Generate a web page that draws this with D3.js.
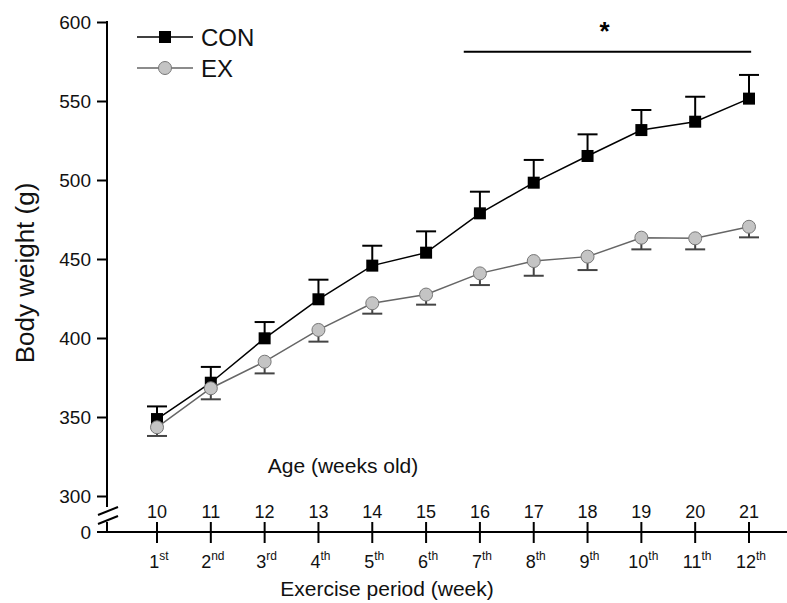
<!DOCTYPE html>
<html>
<head>
<meta charset="utf-8">
<script src="https://cdn.jsdelivr.net/npm/d3@7"></script>
<style>
  html, body { margin: 0; padding: 0; background: #fff; }
  svg { display: block; font-family: "Liberation Sans", Arial, sans-serif; }
</style>
</head>
<body>
<svg id="chart" width="787" height="603"></svg>
<script>
// Age in weeks and the matching exercise week
const ageWeeks = [10, 11, 12, 13, 14, 15, 16, 17, 18, 19, 20, 21];
const exerciseNum = ["1", "2", "3", "4", "5", "6", "7", "8", "9", "10", "11", "12"];
const exerciseSuffix = ["st", "nd", "rd", "th", "th", "th", "th", "th", "th", "th", "th", "th"];

// Body weight (g), mean and SE
const conMean = [348.7, 371.7, 399.8, 424.5, 445.8, 454.0, 478.9, 498.3, 515.2, 531.6, 536.9, 551.5];
const conSE   = [8, 10, 10.3, 12.4, 12.6, 13.5, 13.7, 14.4, 13.7, 12.7, 15.8, 15];
const exMean  = [343.5, 368.2, 385.0, 405.1, 422.0, 427.5, 440.9, 448.7, 451.5, 463.5, 463.1, 470.4];
const exSE    = [5.5, 7, 7.4, 7.4, 6.6, 6.4, 7.4, 9.3, 8.5, 7.4, 7.0, 6.7];

const yTicks = [300, 350, 400, 450, 500, 550, 600];
const seriesNames = ["CON", "EX"];

// significance bar spans from just before week 16 to week 21
const sigFrom = 15.7, sigTo = 21.04, sigLevel = 581.2, starLevel = 597;

const svg = d3.select("#chart");

const x = d3.scaleLinear().domain([10, 21]).range([157, 749]);
const y = d3.scaleLinear().domain([300, 600]).range([496, 22]);

const axisX = 107;      // y axis position
const baseY = 532;      // the zero line
const breakTop = 507, breakBottom = 522;

// ---- Y axis (upper segment with ticks) ----
const yAxis = d3.axisLeft(y).tickValues(yTicks).tickSize(10).tickSizeOuter(0).tickPadding(6);
const gy = svg.append("g").attr("transform", `translate(${axisX},0)`).call(yAxis);
gy.select(".domain").remove();
gy.selectAll(".tick line").attr("stroke", "#000").attr("stroke-width", 2);
gy.selectAll(".tick text").attr("font-size", 19).attr("fill", "#111")
  .attr("font-family", "Liberation Sans, Arial, sans-serif");

svg.append("line").attr("x1", axisX).attr("x2", axisX)
  .attr("y1", y(600) - 1).attr("y2", breakTop)
  .attr("stroke", "#000").attr("stroke-width", 2);
svg.append("line").attr("x1", axisX).attr("x2", axisX)
  .attr("y1", breakBottom).attr("y2", baseY)
  .attr("stroke", "#000").attr("stroke-width", 2);

// axis break marks
[[98, 515, 118, 507], [98, 524, 118, 516]].forEach(([x1, y1, x2, y2]) => {
  svg.append("line").attr("x1", x1).attr("y1", y1).attr("x2", x2).attr("y2", y2)
    .attr("stroke", "#000").attr("stroke-width", 2);
});

// zero tick label
svg.append("text").attr("x", 91).attr("y", baseY).attr("dy", "0.35em")
  .attr("text-anchor", "end").attr("font-size", 19).attr("fill", "#111").text("0");

// ---- X axis ----
svg.append("line").attr("x1", 97).attr("x2", 787).attr("y1", baseY).attr("y2", baseY)
  .attr("stroke", "#000").attr("stroke-width", 2);

const xt = svg.append("g");
xt.selectAll("line.tk").data(ageWeeks).join("line").attr("class", "tk")
  .attr("x1", d => x(d)).attr("x2", d => x(d))
  .attr("y1", baseY - 10).attr("y2", baseY + 11)
  .attr("stroke", "#000").attr("stroke-width", 2);

// age labels above the axis
xt.selectAll("text.age").data(ageWeeks).join("text").attr("class", "age")
  .attr("x", d => x(d)).attr("y", 518)
  .attr("text-anchor", "middle").attr("font-size", 18).attr("fill", "#111")
  .text(d => d);

// exercise week labels below the axis
const ex = xt.selectAll("text.exw").data(ageWeeks).join("text").attr("class", "exw")
  .attr("x", (d) => x(d) + 2).attr("y", 568)
  .attr("text-anchor", "middle").attr("font-size", 18).attr("fill", "#111");
ex.append("tspan").text((d, i) => exerciseNum[i]);
ex.append("tspan").attr("font-size", 12).attr("dy", -8).text((d, i) => exerciseSuffix[i]);

// axis titles
svg.append("text").attr("x", 343).attr("y", 473).attr("text-anchor", "middle")
  .attr("font-size", 21).attr("fill", "#111").text("Age (weeks old)");
svg.append("text").attr("x", 387).attr("y", 596).attr("text-anchor", "middle")
  .attr("font-size", 21).attr("fill", "#111").text("Exercise period (week)");
svg.append("text").attr("transform", "translate(34,273) rotate(-90)")
  .attr("text-anchor", "middle").attr("font-size", 26).attr("fill", "#111")
  .text("Body weight (g)");

// ---- Series ----
const line = d3.line().x((d, i) => x(ageWeeks[i])).y(d => y(d));
const capW = 10;

// EX: lower error bars
const exG = svg.append("g");
exG.append("path").datum(exMean).attr("d", line)
  .attr("fill", "none").attr("stroke", "#666").attr("stroke-width", 1.5);
exMean.forEach((m, i) => {
  const cx = x(ageWeeks[i]);
  exG.append("line").attr("x1", cx).attr("x2", cx).attr("y1", y(m)).attr("y2", y(m - exSE[i]))
    .attr("stroke", "#444").attr("stroke-width", 2);
  exG.append("line").attr("x1", cx - capW).attr("x2", cx + capW)
    .attr("y1", y(m - exSE[i])).attr("y2", y(m - exSE[i]))
    .attr("stroke", "#444").attr("stroke-width", 2);
});

// CON: upper error bars
const conG = svg.append("g");
conG.append("path").datum(conMean).attr("d", line)
  .attr("fill", "none").attr("stroke", "#000").attr("stroke-width", 1.5);
conMean.forEach((m, i) => {
  const cx = x(ageWeeks[i]);
  conG.append("line").attr("x1", cx).attr("x2", cx).attr("y1", y(m)).attr("y2", y(m + conSE[i]))
    .attr("stroke", "#000").attr("stroke-width", 2);
  conG.append("line").attr("x1", cx - capW).attr("x2", cx + capW)
    .attr("y1", y(m + conSE[i])).attr("y2", y(m + conSE[i]))
    .attr("stroke", "#000").attr("stroke-width", 2);
});
conG.selectAll("rect").data(conMean).join("rect")
  .attr("x", (d, i) => x(ageWeeks[i]) - 6).attr("y", d => y(d) - 6)
  .attr("width", 12).attr("height", 12).attr("fill", "#000");

exG.raise();
exG.selectAll("circle").data(exMean).join("circle")
  .attr("cx", (d, i) => x(ageWeeks[i])).attr("cy", d => y(d)).attr("r", 6.5)
  .attr("fill", "#c4c4c4").attr("stroke", "#777").attr("stroke-width", 1);

// ---- significance bar ----
svg.append("line").attr("x1", x(sigFrom)).attr("x2", x(sigTo))
  .attr("y1", y(sigLevel)).attr("y2", y(sigLevel))
  .attr("stroke", "#000").attr("stroke-width", 2);
svg.append("text").attr("x", (x(sigFrom) + x(sigTo)) / 2 - 3).attr("y", y(starLevel) + 13)
  .attr("text-anchor", "middle").attr("font-size", 26).attr("font-weight", "bold")
  .attr("fill", "#000").text("*");

// ---- legend ----
const leg = svg.append("g");
const legRows = [{ name: seriesNames[0], yy: 37 }, { name: seriesNames[1], yy: 68 }];
legRows.forEach((r, i) => {
  leg.append("line").attr("x1", 137).attr("x2", 193).attr("y1", r.yy).attr("y2", r.yy)
    .attr("stroke", i === 0 ? "#000" : "#666").attr("stroke-width", 1.5);
  if (i === 0) {
    leg.append("rect").attr("x", 159).attr("y", r.yy - 6).attr("width", 12).attr("height", 12).attr("fill", "#000");
  } else {
    leg.append("circle").attr("cx", 165).attr("cy", r.yy).attr("r", 6.5)
      .attr("fill", "#c4c4c4").attr("stroke", "#777");
  }
  leg.append("text").attr("x", 201).attr("y", r.yy).attr("dy", "0.36em")
    .attr("font-size", 24).attr("fill", "#111").text(r.name);
});
</script>
</body>
</html>
